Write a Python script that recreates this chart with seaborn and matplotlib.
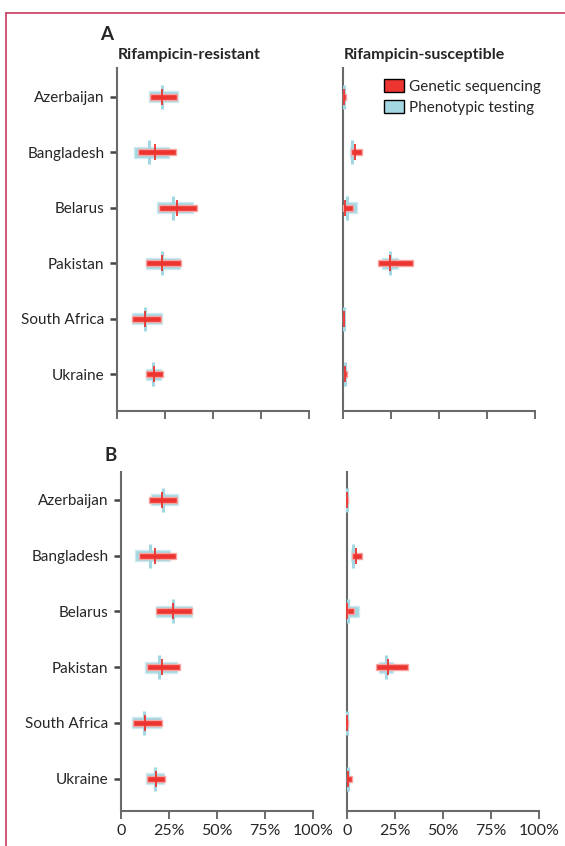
import numpy as np
import pandas as pd
import matplotlib.pyplot as plt
from matplotlib.lines import Line2D
from matplotlib.patches import Patch
import seaborn as sns

###########data###########
countries = ["Azerbaijan", "Bangladesh", "Belarus", "Pakistan", "South Africa", "Ukraine"]

# (estimate, lower, upper) in %
a_res_pheno = [(23.3, 16.8, 31.8), (16.7, 9.0, 27.0), (29.2, 20.8, 39.4),
               (23.3, 15.3, 32.8), (14.6, 8.0, 23.3), (18.6, 15.1, 22.9)]
a_res_gen = [(23.6, 17.2, 31.4), (20.0, 10.8, 30.6), (31.4, 21.9, 41.7),
             (23.6, 15.3, 33.2), (14.8, 8.0, 22.9), (19.3, 15.1, 23.8)]
a_sus_pheno = [(0.5, 0.0, 1.0), (4.7, 3.8, 5.6), (1.9, 0.2, 7.4),
               (24.5, 20.5, 28.5), (0.3, 0.0, 0.5), (0.9, 0.3, 1.5)]
a_sus_gen = [(0.6, 0.2, 1.6), (6.4, 4.3, 9.9), (1.2, 0.2, 5.4),
             (24.6, 18.0, 36.3), (0.3, 0.0, 0.5), (0.9, 0.3, 2.2)]

b_res_pheno = [(21.7, 15.5, 29.7), (15.1, 7.5, 25.7), (26.9, 18.2, 36.8),
               (19.6, 12.3, 29.1), (11.8, 5.7, 20.8), (17.7, 13.2, 22.2)]
b_res_gen = [(21.5, 14.7, 29.3), (17.9, 9.4, 28.5), (26.9, 18.0, 36.8),
             (21.5, 13.4, 30.7), (12.7, 6.3, 21.4), (18.4, 13.5, 23.1)]
b_sus_pheno = [(0.2, 0.0, 0.6), (3.3, 2.0, 4.5), (0.7, 0.0, 6.3),
               (20.5, 16.8, 24.1), (0.1, 0.0, 0.3), (0.5, 0.2, 1.0)]
b_sus_gen = [(0.1, 0.0, 0.4), (4.5, 2.7, 8.0), (0.1, 0.0, 3.8),
             (21.2, 15.1, 31.8), (0.1, 0.0, 0.3), (0.5, 0.0, 2.7)]

xticks = [0, 25, 50, 75, 100]
xticklabels = ["0", "25%", "50%", "75%", "100%"]

###########style###########
sns.set_theme(style="ticks")
plt.rcParams['font.family'] = ['Lato', 'DejaVu Sans']
red = '#ec3530'
blue = '#a3d8e3'
spine = '#6a6a6a'


def to_df(rows, method):
    d = pd.DataFrame(rows, columns=['est', 'lo', 'hi'])
    d['country'] = countries
    d['pos'] = np.arange(len(countries))
    d['method'] = method
    return d


def draw(ax, pheno, gen, ylim, first, labels):
    p = to_df(pheno, 'Phenotypic testing')
    g = to_df(gen, 'Genetic sequencing')
    ax.barh(p['pos'], p['hi'] - p['lo'], left=p['lo'], height=0.2, color=blue,
            edgecolor='#cfeaf0', linewidth=1, zorder=2, clip_on=False)
    sns.scatterplot(data=p, x='est', y='pos', marker='|', s=290, color=blue,
                    linewidth=2.2, ax=ax, zorder=3, clip_on=False)
    ax.barh(g['pos'], g['hi'] - g['lo'], left=g['lo'], height=0.11, color=red,
            edgecolor='#f6a5a2', linewidth=1, zorder=4, clip_on=False)
    sns.scatterplot(data=g, x='est', y='pos', marker='|', s=140, color=red,
                    linewidth=1.3, ax=ax, zorder=5, clip_on=False)
    ax.set_xlim(0, 100)
    ax.set_ylim(*ylim)
    ax.set_xticks(xticks)
    ax.set_xticklabels(xticklabels if labels else [])
    ax.set_xlabel('')
    ax.set_ylabel('')
    ax.set_yticks(range(len(countries)))
    if first:
        ax.set_yticklabels(countries, fontsize=11)
        ax.tick_params(axis='y', length=5, width=1.8, color='#444444', pad=4)
    else:
        ax.set_yticklabels([])
        ax.tick_params(axis='y', length=0)
    ax.tick_params(axis='x', length=6, width=1.4, color=spine, labelsize=11.5, pad=3)
    sns.despine(ax=ax)
    for s in ['left', 'bottom']:
        ax.spines[s].set_color(spine)
        ax.spines[s].set_linewidth(1.5)
    ax.set_facecolor('none')


fig = plt.figure(figsize=(5.65, 8.46), dpi=100)
W, H = 565, 846


def box(x0, x1, y0, y1):
    return [x0 / W, 1 - y1 / H, (x1 - x0) / W, (y1 - y0) / H]


ax1 = fig.add_axes(box(117, 309, 68, 411))
ax2 = fig.add_axes(box(343, 535, 68, 411))
ax3 = fig.add_axes(box(121, 313, 472, 811))
ax4 = fig.add_axes(box(347, 539, 472, 811))

draw(ax1, a_res_pheno, a_res_gen, (5.66, -0.52), True, False)
draw(ax2, a_sus_pheno, a_sus_gen, (5.66, -0.52), False, False)
draw(ax3, b_res_pheno, b_res_gen, (5.58, -0.50), True, True)
draw(ax4, b_sus_pheno, b_sus_gen, (5.58, -0.50), False, True)

fig.text(118 / W, 1 - 55 / H, 'Rifampicin-resistant', fontsize=11.5, fontweight='bold', va='center')
fig.text(344 / W, 1 - 55 / H, 'Rifampicin-susceptible', fontsize=11.5, fontweight='bold', va='center')
fig.text(100 / W, 1 - 35 / H, 'A', fontsize=13.5, fontweight='bold', va='center')
fig.text(104 / W, 1 - 455 / H, 'B', fontsize=13.5, fontweight='bold', va='center')

handles = [Patch(facecolor=red, edgecolor='black', linewidth=1, label='Genetic sequencing'),
           Patch(facecolor=blue, edgecolor='black', linewidth=1, label='Phenotypic testing')]
ax2.legend(handles=handles, loc='upper left', bbox_to_anchor=(0.18, 0.985), frameon=False,
           fontsize=11, handlelength=1.3, handleheight=0.9, handletextpad=0.35,
           labelspacing=0.4, borderaxespad=0)

# page frame
fig.add_artist(Line2D([6 / W, 1], [1 - 13 / H, 1 - 13 / H], color='#c8385f', linewidth=1.2))
fig.add_artist(Line2D([6 / W, 6 / W], [0, 1 - 13 / H], color='#c8385f', linewidth=1.2))

plt.savefig('out.png', dpi=100)
